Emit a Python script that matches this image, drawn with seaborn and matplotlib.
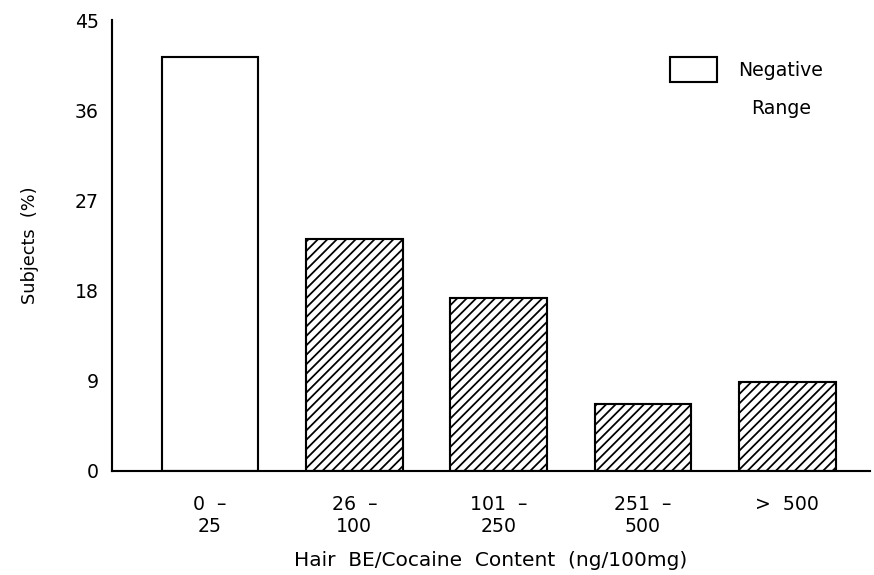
import matplotlib
matplotlib.use("Agg")
import matplotlib.pyplot as plt
import seaborn as sns
from matplotlib.patches import Rectangle

# Subjects (%) per hair BE/cocaine content range
ranges = ["0  \u2013\n25", "26  \u2013\n100", "101  \u2013\n250", "251  \u2013\n500", ">  500"]
subjects_pct = [41.3, 23.2, 17.3, 6.7, 8.9]
hatches = ["", "///", "///", "///", "///"]
y_ticks = [0, 9, 18, 27, 36, 45]

sns.set_style("white")
plt.rcParams["font.family"] = ["DejaVu Sans"]
plt.rcParams["text.color"] = "black"
plt.rcParams["axes.labelcolor"] = "black"
plt.rcParams["xtick.color"] = "black"
plt.rcParams["ytick.color"] = "black"
plt.rcParams["hatch.color"] = "black"
plt.rcParams["hatch.linewidth"] = 1.5

DPI = 85
fig = plt.figure(figsize=(874 / DPI, 575 / DPI), dpi=DPI)
ax = fig.add_axes([0.128, 0.181, 0.867, 0.784])

sns.barplot(x=ranges, y=subjects_pct, color="white", edgecolor="black",
            linewidth=1.8, width=0.67, saturation=1, ax=ax)
for bar, h in zip(ax.patches, hatches):
    bar.set_hatch(h)

ax.set_ylim(0, 45)
ax.set_xlim(-0.68, 4.57)
ax.set_yticks(y_ticks)
ax.tick_params(axis="y", direction="in", length=7, width=1.8, labelsize=16, pad=11)
ax.tick_params(axis="x", length=0, labelsize=16, pad=20)
for lbl in ax.get_xticklabels():
    lbl.set_multialignment("center")

for side in ["top", "right"]:
    ax.spines[side].set_visible(False)
for side in ["left", "bottom"]:
    ax.spines[side].set_color("black")
    ax.spines[side].set_linewidth(1.8)

ax.set_ylabel("Subjects  (%)", fontsize=15, labelpad=30)
ax.set_xlabel("Hair  BE/Cocaine  Content  (ng/100mg)", fontsize=17, labelpad=13)

# legend drawn by hand, as in the original figure
ax.add_patch(Rectangle((0.736, 0.8625), 0.062, 0.0555, transform=ax.transAxes,
                       facecolor="white", edgecolor="black", linewidth=1.8,
                       clip_on=False))
ax.text(0.883, 0.889, "Negative", transform=ax.transAxes, fontsize=16,
        ha="center", va="center")
ax.text(0.883, 0.805, "Range", transform=ax.transAxes, fontsize=16,
        ha="center", va="center")

fig.savefig("out.png", dpi=DPI)
